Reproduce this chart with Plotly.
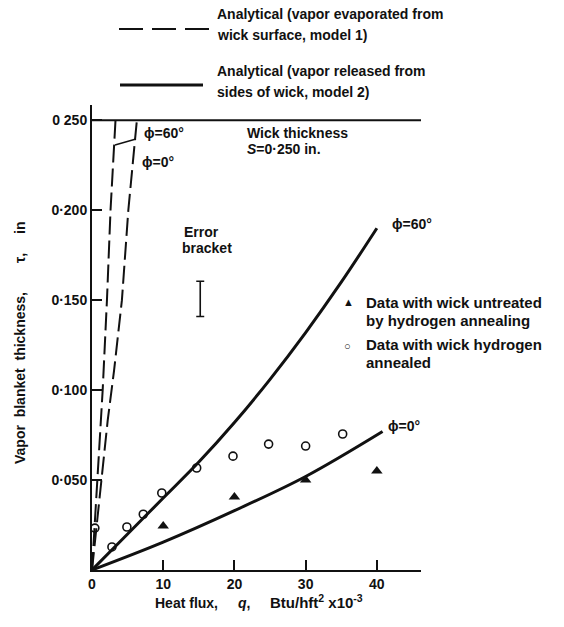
import plotly.graph_objects as go

# ---------------- data ----------------
# Model 2 (solid, vapor released from sides of wick)
q_m2_phi60 = [0, 5, 10, 15, 20, 25, 30, 35, 40]
tau_m2_phi60 = [0, 0.020, 0.040, 0.060, 0.082, 0.106, 0.132, 0.160, 0.190]
q_m2_phi0 = [0, 10, 20, 30, 40.8]
tau_m2_phi0 = [0, 0.0155, 0.033, 0.052, 0.077]
# Model 1 (dashed, vapor evaporated from wick surface)
q_m1_phi60 = [0, 0.8, 1.5, 2.1, 2.6, 3.3]
tau_m1_phi60 = [0, 0.05, 0.10, 0.15, 0.20, 0.25]
q_m1_phi0 = [0, 1.1, 2.2, 3.1, 4.2, 5.1, 6.3]
tau_m1_phi0 = [0, 0.041, 0.083, 0.111, 0.15, 0.20, 0.25]
# Experimental data
q_annealed = [0.4, 2.8, 4.9, 7.2, 9.8, 14.7, 19.8, 24.8, 30.0, 35.2]
tau_annealed = [0.0233, 0.0128, 0.0239, 0.031, 0.0428, 0.0567, 0.0633, 0.070, 0.0689, 0.0756]
q_untreated = [10, 20, 30, 40]
tau_untreated = [0.0244, 0.0406, 0.050, 0.055]
# Wick thickness line
wick_q = [0, 46.5]
wick_tau = [0.25, 0.25]
# Error bracket
err_q = [15.2]
err_tau = [0.1507]
err_half = [0.0098]

x_ticks = [0, 10, 20, 30, 40]
x_ticklabels = ["0", "10", "20", "30", "40"]
y_ticks = [0.05, 0.10, 0.15, 0.20, 0.25]
y_ticklabels = ["0·050", "0·100", "0·150", "0·200", "0 250"]

# ---------------- layout geometry ----------------
W, H = 564, 627
L, R, T, B = 92, 143, 105, 57
PW, PH = W - L - R, H - T - B
FONT = "Liberation Sans"
INK = "#111111"


def px(xp, yp):
    return (xp - L) / PW, (H - B - yp) / PH


fig = go.Figure()

fig.add_trace(go.Scatter(x=wick_q, y=wick_tau, mode="lines",
                         line=dict(color=INK, width=2), cliponaxis=False))
fig.add_trace(go.Scatter(x=q_m1_phi60, y=tau_m1_phi60, mode="lines",
                         line=dict(color=INK, width=2, dash="18px,6px")))
fig.add_trace(go.Scatter(x=q_m1_phi0, y=tau_m1_phi0, mode="lines",
                         line=dict(color=INK, width=2, dash="18px,6px")))
fig.add_trace(go.Scatter(x=q_m2_phi60, y=tau_m2_phi60, mode="lines",
                         line=dict(color=INK, width=3, shape="spline")))
fig.add_trace(go.Scatter(x=q_m2_phi0, y=tau_m2_phi0, mode="lines",
                         line=dict(color=INK, width=3, shape="spline")))
fig.add_trace(go.Scatter(x=q_annealed, y=tau_annealed, mode="markers", cliponaxis=False,
                         marker=dict(symbol="circle-open", size=8, color=INK,
                                     line=dict(width=1.6, color=INK))))
fig.add_trace(go.Scatter(x=q_untreated, y=tau_untreated, mode="markers",
                         marker=dict(symbol="triangle-up", size=10, color=INK)))
fig.add_trace(go.Scatter(x=err_q, y=err_tau, mode="markers",
                         marker=dict(size=1, color="rgba(0,0,0,0)"),
                         error_y=dict(type="data", array=err_half, visible=True,
                                      color=INK, thickness=1.6, width=4)))

anns = []


def text(xp, yp, s, size=14, xanchor="left", angle=0):
    x, y = px(xp, yp)
    anns.append(dict(x=x, y=y, xref="paper", yref="paper", text=s, showarrow=False,
                     xanchor=xanchor, yanchor="middle", textangle=angle,
                     font=dict(family=FONT, size=size, color=INK)))


# legend (top)
text(215, 14, "<b>Analytical (vapor evaporated from</b>")
text(215, 35, "<b>wick surface, model 1)</b>")
text(215, 71, "<b>Analytical (vapor released from</b>")
text(215, 92, "<b>sides of wick, model 2)</b>")

# labels inside plot
text(142, 133, "<b>ϕ=60°</b>")
text(140, 162, "<b>ϕ=0°</b>")
text(245, 133, "<b>Wick thickness</b>")
text(245, 149, "<b><i>S</i>=0·250 in.</b>")
text(182, 232, "<b>Error</b>")
text(180, 248, "<b>bracket</b>")
text(390, 224, "<b>ϕ=60°</b>")
text(386, 426, "<b>ϕ=0°</b>")
text(341, 302, "<b>▲</b>", size=11)
text(364, 302, "<b>Data with wick untreated</b>", size=15)
text(364, 320, "<b>by hydrogen annealing</b>", size=15)
text(342, 346, "○", size=11)
text(364, 344, "<b>Data with wick hydrogen</b>", size=15)
text(364, 362, "<b>annealed</b>", size=15)

# axis titles
text(20, 378, "<b>Vapor  blanket  thickness,</b>", size=14, xanchor="center", angle=-90)
text(20, 258, "<b>τ,</b>", size=14, xanchor="center", angle=-90)
text(20, 228, "<b>in</b>", size=14, xanchor="center", angle=-90)
text(153, 603, "<b>Heat flux,</b>", size=14)
text(236, 603, "<b><i>q</i>,</b>", size=14)
text(268, 601, "<b>Btu/hft<sup>2</sup> x10<sup>-3</sup></b>", size=15)

# legend sample lines and the phi=60 leader line
shapes = []
x0, y0 = px(119, 29); x1, y1 = px(210, 29)
shapes.append(dict(type="line", xref="paper", yref="paper", x0=x0, y0=y0, x1=x1, y1=y1,
                   line=dict(color=INK, width=2, dash="24px,9px")))
x0, y0 = px(120, 85); x1, y1 = px(203, 85)
shapes.append(dict(type="line", xref="paper", yref="paper", x0=x0, y0=y0, x1=x1, y1=y1,
                   line=dict(color=INK, width=3)))
x0, y0 = px(115, 145); x1, y1 = px(136, 139)
shapes.append(dict(type="line", xref="paper", yref="paper", x0=x0, y0=y0, x1=x1, y1=y1,
                   line=dict(color=INK, width=1.5)))

fig.update_layout(
    width=W, height=H, autosize=False,
    margin=dict(l=L, r=R, t=T, b=B),
    paper_bgcolor="white", plot_bgcolor="white",
    showlegend=False,
    annotations=anns, shapes=shapes,
    font=dict(family=FONT, size=14, color=INK),
    xaxis=dict(range=[0, 46.2], tickvals=x_ticks, ticktext=[f"<b>{t}</b>" for t in x_ticklabels],
               ticks="inside", ticklen=10, tickwidth=1.5, tickcolor=INK,
               showline=True, linecolor=INK, linewidth=2, showgrid=False, zeroline=False,
               tickfont=dict(family=FONT, size=14, color=INK)),
    yaxis=dict(range=[0, 0.2585], tickvals=y_ticks, ticktext=[f"<b>{t}</b>" for t in y_ticklabels],
               ticks="inside", ticklen=10, tickwidth=1.5, tickcolor=INK,
               showline=True, linecolor=INK, linewidth=2, showgrid=False, zeroline=False,
               tickfont=dict(family=FONT, size=14, color=INK)),
)

fig.write_html("out.html")
